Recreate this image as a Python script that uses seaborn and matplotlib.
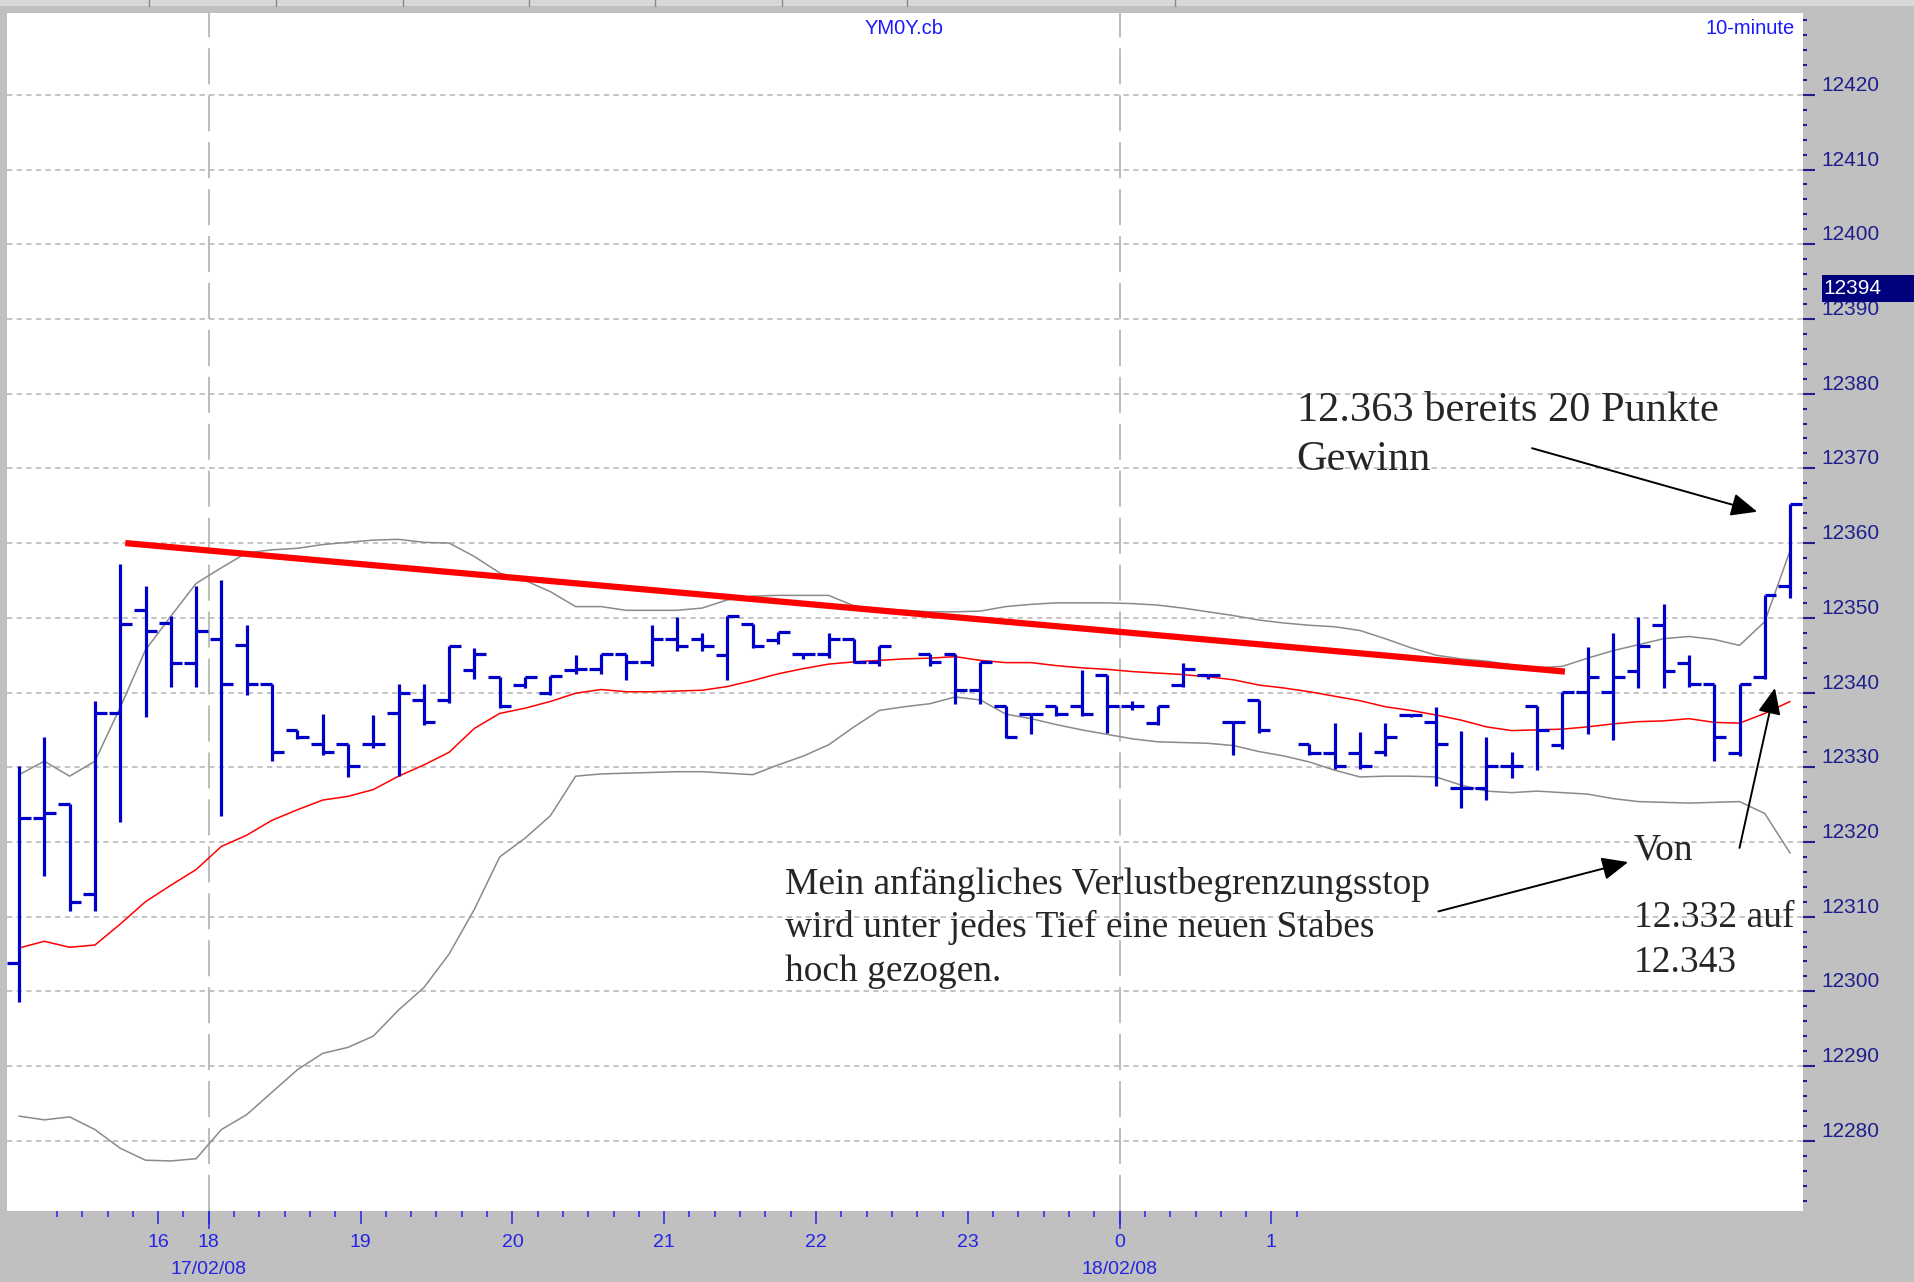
import matplotlib.pyplot as plt
import seaborn as sns
import numpy as np
import pandas as pd
from matplotlib.patches import Rectangle
from matplotlib.lines import Line2D

# 10-Minuten-Balken YM0Y (Index 0..70), NaN = kein Balken
opens = [12303.8, 12323.2, 12325.1, 12313.0, 12337.2, 12351.1, 12349.3, 12344.0, 12347.1, 12346.3,
         12341.2, 12335.0, 12333.1, 12333.1, 12333.1, 12337.2, 12339.0, 12339.0, 12343.0, 12342.1,
         12341.0, 12340.0, 12343.0, 12343.1, 12345.1, 12344.1, 12347.1, 12347.1, 12345.0, 12349.2,
         12347.0, 12345.1, 12345.1, 12347.1, 12344.1, np.nan, 12345.2, 12345.2, 12340.3, 12338.2,
         12337.1, 12338.2, 12338.2, 12342.3, 12338.2, 12335.9, 12341.0, 12342.4, 12336.1, 12339.0,
         np.nan, 12333.1, 12331.9, 12331.9, 12332.0, 12337.0, 12336.0, 12327.2, 12327.2, 12330.2,
         12338.2, 12333.0, 12340.1, 12340.1, 12342.9, 12349.1, 12344.0, 12341.2, 12331.9, 12342.1,
         12354.2]
highs = [12330.1, 12334.1, 12325.1, 12338.8, 12357.2, 12354.2, 12350.2, 12354.2, 12355.0, 12349.1,
         12341.2, 12335.0, 12337.1, 12333.1, 12337.0, 12341.1, 12341.1, 12346.2, 12346.0, 12342.1,
         12342.1, 12342.2, 12345.0, 12345.1, 12345.1, 12349.1, 12350.1, 12348.0, 12350.3, 12349.2,
         12348.1, 12345.1, 12347.9, 12347.1, 12346.2, np.nan, 12345.2, 12345.2, 12344.1, 12338.2,
         12337.1, 12338.2, 12343.0, 12342.3, 12338.9, 12338.2, 12344.0, 12342.4, 12336.1, 12339.0,
         np.nan, 12333.1, 12335.9, 12334.7, 12335.9, 12337.0, 12338.1, 12334.9, 12334.1, 12332.0,
         12338.2, 12340.1, 12346.1, 12347.9, 12350.1, 12351.9, 12345.0, 12341.2, 12341.2, 12353.0,
         12365.2]
lows = [12298.6, 12315.5, 12310.7, 12310.7, 12322.7, 12336.7, 12340.7, 12340.7, 12323.5, 12339.6,
        12330.8, 12333.8, 12331.6, 12328.7, 12332.6, 12328.8, 12335.6, 12338.6, 12341.8, 12337.9,
        12340.6, 12339.6, 12342.5, 12342.5, 12341.7, 12343.6, 12345.6, 12345.6, 12341.7, 12345.9,
        12346.5, 12344.5, 12344.6, 12343.9, 12343.5, np.nan, 12343.6, 12338.5, 12338.5, 12333.9,
        12334.5, 12336.8, 12336.8, 12334.6, 12337.7, 12335.6, 12340.8, 12341.8, 12331.6, 12334.6,
        np.nan, 12331.6, 12329.8, 12329.8, 12331.5, 12336.7, 12327.5, 12324.5, 12325.6, 12328.6,
        12329.6, 12332.5, 12334.5, 12333.7, 12340.6, 12340.6, 12340.7, 12330.8, 12331.5, 12341.8,
        12352.7]
closes = [12323.2, 12323.9, 12311.9, 12337.2, 12349.2, 12348.2, 12344.0, 12348.2, 12341.2, 12341.2,
          12332.0, 12334.1, 12332.1, 12330.1, 12333.1, 12340.0, 12336.1, 12346.2, 12345.1, 12338.2,
          12342.1, 12342.2, 12343.1, 12345.1, 12344.1, 12347.1, 12346.2, 12346.2, 12350.3, 12346.2,
          12348.1, 12345.1, 12347.1, 12344.1, 12346.2, np.nan, 12344.1, 12340.3, 12344.1, 12334.1,
          12337.1, 12337.1, 12337.1, 12338.2, 12338.2, 12338.2, 12343.1, 12342.4, 12336.1, 12335.0,
          np.nan, 12331.9, 12330.1, 12330.1, 12334.1, 12337.0, 12333.1, 12327.2, 12330.2, 12330.2,
          12335.0, 12340.1, 12342.1, 12342.1, 12346.2, 12342.9, 12341.2, 12334.1, 12341.2, 12353.0,
          12365.2]

# Bollinger-Baender und Mittellinie
upper_band = [12329.0, 12330.8, 12328.8, 12330.8, 12338.0, 12345.7, 12350.2, 12354.6, 12356.7, 12358.7,
              12359.1, 12359.3, 12359.8, 12360.1, 12360.4, 12360.5, 12360.1, 12360.0, 12358.2, 12356.0,
              12355.0, 12353.5, 12351.5, 12351.5, 12351.0, 12351.0, 12351.0, 12351.3, 12352.4, 12352.9,
              12353.0, 12353.0, 12353.0, 12351.6, 12351.2, 12351.0, 12350.8, 12350.8, 12350.9, 12351.5,
              12351.8, 12352.0, 12352.0, 12352.0, 12351.9, 12351.7, 12351.3, 12350.8, 12350.3, 12349.7,
              12349.3, 12349.0, 12348.8, 12348.3, 12347.2, 12346.0, 12345.0, 12344.5, 12344.2, 12343.7,
              12343.3, 12343.5, 12344.6, 12345.6, 12346.4, 12347.2, 12347.5, 12347.1, 12346.3, 12349.5,
              12359.0]
mid_band = [12305.8, 12306.7, 12305.9, 12306.2, 12309.0, 12312.0, 12314.2, 12316.3, 12319.4, 12320.9,
            12322.9, 12324.3, 12325.6, 12326.1, 12327.0, 12328.8, 12330.3, 12332.0, 12335.2, 12337.2,
            12337.9, 12338.8, 12339.9, 12340.4, 12340.1, 12340.1, 12340.2, 12340.3, 12340.8, 12341.6,
            12342.5, 12343.2, 12343.8, 12344.1, 12344.3, 12344.5, 12344.6, 12344.8, 12344.3, 12344.0,
            12344.0, 12343.6, 12343.3, 12343.1, 12342.8, 12342.6, 12342.4, 12342.1, 12341.7, 12341.0,
            12340.6, 12340.1, 12339.5, 12338.9, 12338.1, 12337.6, 12337.0, 12336.3, 12335.4, 12334.9,
            12335.0, 12335.1, 12335.4, 12335.8, 12336.1, 12336.2, 12336.5, 12336.0, 12335.9, 12337.2,
            12338.8]
lower_band = [12283.3, 12282.8, 12283.2, 12281.5, 12279.0, 12277.4, 12277.3, 12277.6, 12281.5, 12283.5,
              12286.5, 12289.5, 12291.7, 12292.5, 12294.0, 12297.5, 12300.5, 12305.0, 12311.0, 12318.0,
              12320.5, 12323.5, 12328.8, 12329.1, 12329.2, 12329.3, 12329.4, 12329.4, 12329.2, 12329.0,
              12330.3, 12331.5, 12333.0, 12335.4, 12337.6, 12338.1, 12338.5, 12339.4, 12339.0, 12337.1,
              12336.5, 12335.7, 12335.0, 12334.4, 12333.8, 12333.4, 12333.3, 12333.2, 12332.9, 12332.1,
              12331.5, 12330.7, 12329.6, 12328.7, 12328.8, 12328.8, 12328.7, 12327.6, 12326.8, 12326.6,
              12326.8, 12326.6, 12326.4, 12325.8, 12325.4, 12325.3, 12325.2, 12325.3, 12325.4, 12323.8,
              12318.5]

# Achsenbeschriftung
hour_pos = [5.5, 7.5, 13.5, 19.5, 25.5, 31.5, 37.5, 43.5, 49.5]
hour_labels = ['16', '18', '19', '20', '21', '22', '23', '0', '1']
day_pos = [7.5, 43.5]
day_labels = ['17/02/08', '18/02/08']
price_ticks = list(range(12280, 12421, 10))

# Trendlinie (von Hand gezeichnet)
trend_x = [4.2, 61.1]
trend_y = [12360.0, 12342.8]

BAR_BLUE = '#0000c8'
AXIS_BLUE = '#2424e6'
NAVY = '#1e1e8c'
SERIF = ['Liberation Serif', 'DejaVu Serif']

sns.set_style('white')
plt.rcParams['font.family'] = ['Liberation Sans', 'DejaVu Sans']

fig = plt.figure(figsize=(19.15, 12.82), dpi=100, facecolor='#c0c0c0')
ax = fig.add_axes([0.00366, 0.05538, 0.93786, 0.93448])
ax.set_facecolor('white')

# Baender
idx = np.arange(len(upper_band))
for band, col in ((upper_band, '#8a8a8a'), (lower_band, '#8a8a8a'), (mid_band, '#ff0000')):
    sns.lineplot(x=idx, y=band, ax=ax, color=col, lw=1.1, estimator=None, sort=False,
                 legend=False, zorder=2)

# OHLC-Balken
bars = pd.DataFrame({'open': opens, 'high': highs, 'low': lows, 'close': closes})
bars['pos'] = bars.index
bars = bars.dropna()
ax.vlines(bars['pos'], bars['low'], bars['high'], color=BAR_BLUE, lw=2.3, zorder=3,
          capstyle='butt')
ax.hlines(bars['open'], bars['pos'] - 0.46, bars['pos'], color=BAR_BLUE, lw=2.3, zorder=3,
          capstyle='butt')
ax.hlines(bars['close'], bars['pos'], bars['pos'] + 0.46, color=BAR_BLUE, lw=2.3, zorder=3,
          capstyle='butt')

ax.plot(trend_x, trend_y, color='#ff0000', lw=4.5, solid_capstyle='butt', zorder=4)

# Gitter
ax.grid(False)
for v in price_ticks:
    ax.axhline(v, color='#b4b4b4', lw=1.1, ls=(0, (3.5, 2.8)), zorder=1)
for p in day_pos:
    ax.axvline(p, color='#b8b8b8', lw=1.3, ls=(0, (20, 6)), zorder=1)

ax.set_xlim(-0.474, 70.51)
ax.set_ylim(12270.6, 12430.95)
for s in ax.spines.values():
    s.set_visible(False)
ax.set_xlabel('')
ax.set_ylabel('')

# y-Achse rechts
ax.yaxis.tick_right()
ax.set_yticks(price_ticks, [str(v) for v in price_ticks])
ax.set_yticks(np.arange(12272, 12431, 2), minor=True)
ax.tick_params(axis='y', which='major', direction='out', right=True, length=8.6, width=1.5,
               color=NAVY, pad=4.3, labelsize=15, labelcolor=NAVY)
ax.tick_params(axis='y', which='minor', direction='out', right=True, length=3, width=1.5,
               color=NAVY)
plt.setp(ax.get_yticklabels(), va='bottom')

# x-Achse
ax.set_xticks(hour_pos, hour_labels)
ax.set_xticks(np.arange(1.5, 51, 1), minor=True)
ax.tick_params(axis='x', which='major', direction='out', bottom=True, length=9.4, width=1.1,
               color=AXIS_BLUE, pad=7.5, labelsize=14, labelcolor=AXIS_BLUE)
ax.tick_params(axis='x', which='minor', direction='out', bottom=True, length=4.5, width=1.1,
               color=AXIS_BLUE)
xt = ax.get_xaxis_transform()
ax.vlines(day_pos, -0.015, 0, transform=xt, color=AXIS_BLUE, lw=1.1, clip_on=False)
for p, lab in zip(day_pos, day_labels):
    ax.text(p, -0.049, lab, transform=xt, ha='center', va='center', color=AXIS_BLUE,
            fontsize=14)

# Kopfzeile
fig.text(904 / 1915, 1 - 28 / 1282, 'YM0Y.cb', ha='center', va='center', color='#1a1aff',
         fontsize=14.5)
fig.text(1795 / 1915, 1 - 28 / 1282, '10-minute', ha='right', va='center', color='#1a1aff',
         fontsize=14.5)
fig.add_artist(Rectangle((0, 1 - 6 / 1282), 1, 6 / 1282, transform=fig.transFigure,
                         facecolor='#d8d8d8', edgecolor='none'))
for xs in [149, 276, 403, 529, 655, 782, 907, 1175]:
    fig.add_artist(Line2D([xs / 1915] * 2, [1 - 6 / 1282, 1], transform=fig.transFigure,
                          color='#8a8a8a', lw=1))

# Kurslabel
fig.add_artist(Rectangle((1822 / 1915, 1 - 302 / 1282), 93 / 1915, 27 / 1282,
                         transform=fig.transFigure, facecolor='#00007c', edgecolor='none',
                         zorder=5))
fig.text(1823 / 1915, 1 - 289 / 1282, '12394', color='white', fontsize=15, va='center',
         zorder=6)

# Kommentare
ax.text(50.5, 12376.3, '12.363 bereits 20 Punkte', family=SERIF, fontsize=30.5, va='baseline')
ax.text(50.5, 12369.8, 'Gewinn', family=SERIF, fontsize=30.5, va='baseline')
ax.text(30.28, 12313.0, 'Mein anfängliches Verlustbegrenzungsstop', family=SERIF,
        fontsize=27, va='baseline')
ax.text(30.28, 12307.3, 'wird unter jedes Tief eine neuen Stabes', family=SERIF,
        fontsize=27, va='baseline')
ax.text(30.28, 12301.4, 'hoch gezogen.', family=SERIF, fontsize=27, va='baseline')
ax.text(63.83, 12317.7, 'Von', family=SERIF, fontsize=27, va='baseline')
ax.text(63.83, 12308.6, '12.332 auf', family=SERIF, fontsize=27, va='baseline')
ax.text(63.83, 12302.6, '12.343', family=SERIF, fontsize=27, va='baseline')

arrow = dict(arrowstyle='-|>,head_length=0.8,head_width=0.35', color='black', lw=1.4,
             mutation_scale=20, shrinkA=0, shrinkB=0)
ax.annotate('', xy=(68.7, 12364.2), xytext=(59.8, 12372.7), arrowprops=arrow)
ax.annotate('', xy=(63.6, 12317.3), xytext=(56.1, 12310.7), arrowprops=arrow)
ax.annotate('', xy=(69.4, 12340.6), xytext=(68.0, 12319.2), arrowprops=arrow)

fig.savefig('out.png', dpi=100, facecolor=fig.get_facecolor())
